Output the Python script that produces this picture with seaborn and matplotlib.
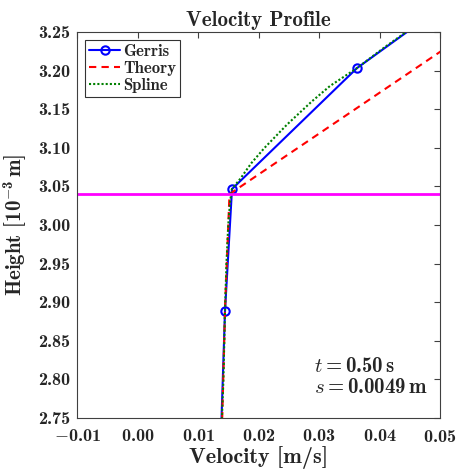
import numpy as np
import pandas as pd
import matplotlib
matplotlib.use("Agg")
import matplotlib.pyplot as plt
import seaborn as sns

# data (velocity in m/s, height in 1e-3 m)
gerris_u = [0.0136, 0.01446, 0.01562, 0.0363, 0.0640]
gerris_h = [2.68, 2.8886, 3.0466, 3.2034, 3.36]

theory_u = [0.0138, 0.0140, 0.0145, 0.0150, 0.0152, 0.0560]
theory_h = [2.70, 2.75, 2.90, 3.00, 3.04, 3.256]

spline_u = [0.0137, 0.0142, 0.01446, 0.0147, 0.0150, 0.0153, 0.0156,
            0.0170, 0.0188, 0.0210, 0.0247, 0.0288, 0.0318, 0.0363, 0.0408, 0.0462]
spline_h = [2.70, 2.80, 2.8886, 2.95, 3.00, 3.03, 3.0466,
            3.06, 3.08, 3.10, 3.13, 3.16, 3.18, 3.2034, 3.23, 3.26]

interface_h = 3.04

sns.set_theme(style="white")
plt.rcParams["font.family"] = ["cmb10", "DejaVu Serif"]
plt.rcParams["font.weight"] = "bold"
plt.rcParams["mathtext.fontset"] = "custom"
plt.rcParams["mathtext.rm"] = "cmb10"
plt.rcParams["mathtext.bf"] = "cmb10"
plt.rcParams["mathtext.it"] = "cmmi10"
plt.rcParams["axes.unicode_minus"] = True

gerris = pd.DataFrame({"u": gerris_u, "h": gerris_h})
theory = pd.DataFrame({"u": theory_u, "h": theory_h})
spline = pd.DataFrame({"u": spline_u, "h": spline_h})

fig = plt.figure(figsize=(4.59, 4.72), dpi=100)
ax = fig.add_axes([0.1678, 0.1144, 0.7908, 0.8178])

sns.lineplot(data=gerris, x="u", y="h", sort=False, estimator=None, ax=ax,
             color="#0000ff", lw=1.5, marker="o", markersize=6,
             markerfacecolor="none", markeredgecolor="#0000ff", markeredgewidth=1.5,
             label="Gerris")
sns.lineplot(data=theory, x="u", y="h", sort=False, estimator=None, ax=ax,
             color="#ff0000", lw=1.5, label="Theory")
ax.lines[-1].set_linestyle((0, (3.5, 2.5)))
sns.lineplot(data=spline, x="u", y="h", sort=False, estimator=None, ax=ax,
             color="#008000", lw=1.5, label="Spline")
ax.lines[-1].set_linestyle((0, (1, 1)))
ax.axhline(interface_h, color="#ff00ff", lw=2)

ax.set_xlim(-0.01, 0.05)
ax.set_ylim(2.75, 3.25)
ax.set_xticks(np.arange(-0.01, 0.0501, 0.01))
ax.set_yticks(np.arange(2.75, 3.2501, 0.05))
ax.xaxis.set_major_formatter(matplotlib.ticker.FormatStrFormatter("$%.2f$"))
ax.yaxis.set_major_formatter(matplotlib.ticker.FormatStrFormatter("%.2f"))
ax.tick_params(direction="in", top=True, right=True, length=4, width=0.8,
               color="#404040", labelsize=13)
ax.tick_params(axis="x", pad=7)
ax.tick_params(axis="y", pad=5)
for s in ax.spines.values():
    s.set_color("#404040")
    s.set_linewidth(0.8)

ax.set_title("Velocity Profile", fontsize=15, fontweight="bold", pad=4)
ax.set_xlabel("Velocity [m/s]", fontsize=16, labelpad=1)
ax.set_ylabel(r"Height [10$^{-3}\,$m]", fontsize=15, labelpad=6)

leg = ax.legend(loc="upper left", fontsize=12, frameon=True, fancybox=False,
                edgecolor="black", handlelength=1.9, handletextpad=0.15,
                borderpad=0.25, labelspacing=0.12, borderaxespad=0.45)
leg.get_frame().set_linewidth(0.8)

ax.text(0.0292, 2.8096, r"$t = 0.50\,\mathrm{s}$", fontsize=15, ha="left", va="baseline")
ax.text(0.0292, 2.7824, r"$s = 0.0049\,\mathrm{m}$", fontsize=15, ha="left", va="baseline")

fig.savefig("out.png", dpi=100)
